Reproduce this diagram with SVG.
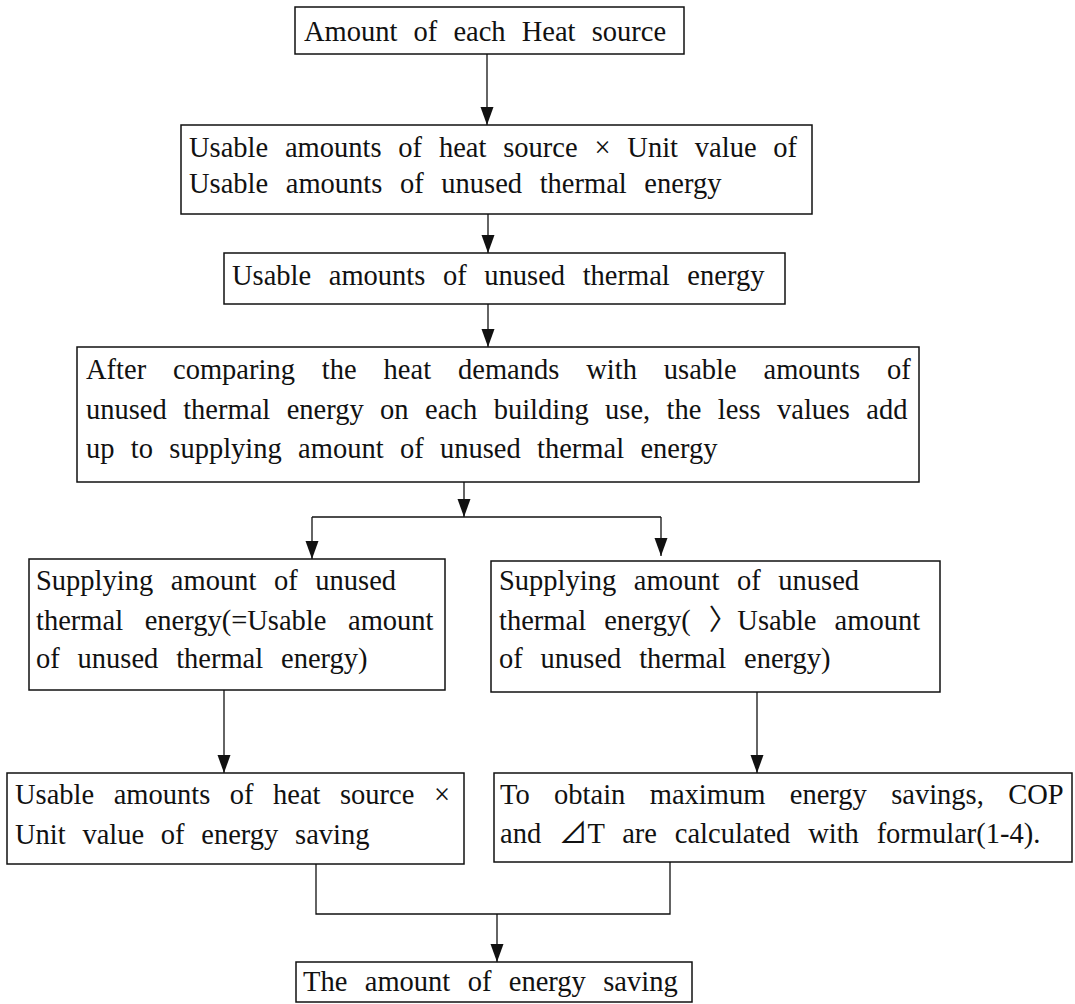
<svg xmlns="http://www.w3.org/2000/svg" width="1075" height="1004" viewBox="0 0 1075 1004">
<style>
  .box { fill: #ffffff; stroke: #111111; stroke-width: 1.5; }
  .t { font-family: "Liberation Serif", "Noto Sans CJK KR", serif; font-size: 28.5px; fill: #111111; word-spacing: 10px; }
  .ln { fill: none; stroke: #111111; stroke-width: 1.3; }
  .arr { fill: none; stroke: #111111; stroke-width: 1.3; marker-end: url(#ah); }
</style>
<defs>
  <marker id="ah" markerUnits="userSpaceOnUse" markerWidth="18" markerHeight="20" refX="18" refY="6.5" orient="auto">
    <path d="M0,0 L18,6.5 L0,13 Z" fill="#111111"/>
  </marker>
</defs>
<rect width="1075" height="1004" fill="#ffffff"/>

<g id="connectors">
  <line class="arr" x1="487" y1="54" x2="487" y2="125"/>
  <line class="arr" x1="488" y1="214" x2="488" y2="253"/>
  <line class="arr" x1="488" y1="304" x2="488" y2="347"/>
  <line class="arr" x1="464" y1="482" x2="464" y2="517"/>
  <line class="ln" x1="312" y1="517" x2="661" y2="517"/>
  <line class="arr" x1="312" y1="517" x2="312" y2="559"/>
  <line class="arr" x1="661" y1="517" x2="661" y2="556"/>
  <line class="arr" x1="224" y1="690" x2="224" y2="773"/>
  <line class="arr" x1="757" y1="692" x2="757" y2="773"/>
  <polyline class="ln" points="316,864 316,914 670,914 670,862"/>
  <line class="arr" x1="497" y1="914" x2="497" y2="962"/>
</g>

<g id="node1">
  <rect class="box" x="295" y="7" width="389" height="47"/>
  <text class="t" x="304" y="41" style="word-spacing:9px">Amount of each Heat source</text>
</g>

<g id="node2">
  <rect class="box" x="181" y="125" width="631" height="89"/>
  <text class="t" x="189" y="157" style="word-spacing:9.7px">Usable amounts of heat source × Unit value of</text>
  <text class="t" x="189" y="193" style="word-spacing:10.5px">Usable amounts of unused thermal energy</text>
</g>

<g id="node3">
  <rect class="box" x="224" y="253" width="561" height="51"/>
  <text class="t" x="232" y="285" style="word-spacing:10.5px">Usable amounts of unused thermal energy</text>
</g>

<g id="node4">
  <rect class="box" x="77" y="347" width="842" height="135"/>
  <text class="t" x="86" y="379" style="word-spacing:19.8px">After comparing the heat demands with usable amounts of</text>
  <text class="t" x="86" y="419" style="word-spacing:9.3px">unused thermal energy on each building use, the less values add</text>
  <text class="t" x="86" y="458" style="word-spacing:9.2px">up to supplying amount of unused thermal energy</text>
</g>

<g id="node5">
  <rect class="box" x="29" y="559" width="416" height="131"/>
  <text class="t" x="36" y="590" style="word-spacing:10.5px">Supplying amount of unused</text>
  <text class="t" x="36" y="630" style="word-spacing:14.5px">thermal energy(=Usable amount</text>
  <text class="t" x="36" y="668" style="word-spacing:10.7px">of unused thermal energy)</text>
</g>

<g id="node6">
  <rect class="box" x="491" y="561" width="449" height="131"/>
  <text class="t" x="499" y="590" style="word-spacing:10.5px">Supplying amount of unused</text>
  <text class="t" x="499" y="630" style="word-spacing:11px">thermal energy( 〉Usable amount</text>
  <text class="t" x="499" y="668" style="word-spacing:10.7px">of unused thermal energy)</text>
</g>

<g id="node7">
  <rect class="box" x="7" y="773" width="457" height="91"/>
  <text class="t" x="15" y="804" style="word-spacing:12.4px">Usable amounts of heat source ×</text>
  <text class="t" x="15" y="844" style="word-spacing:9.6px">Unit value of energy saving</text>
</g>

<g id="node8">
  <rect class="box" x="494" y="773" width="578" height="89"/>
  <text class="t" x="500" y="804" style="word-spacing:17.3px">To obtain maximum energy savings, COP</text>
  <text class="t" x="500" y="843" style="word-spacing:10.7px">and ⊿T are calculated with formular(1-4).</text>
</g>

<g id="node9">
  <rect class="box" x="296" y="962" width="396" height="40"/>
  <text class="t" x="303" y="991" style="word-spacing:10.3px">The amount of energy saving</text>
</g>
</svg>
